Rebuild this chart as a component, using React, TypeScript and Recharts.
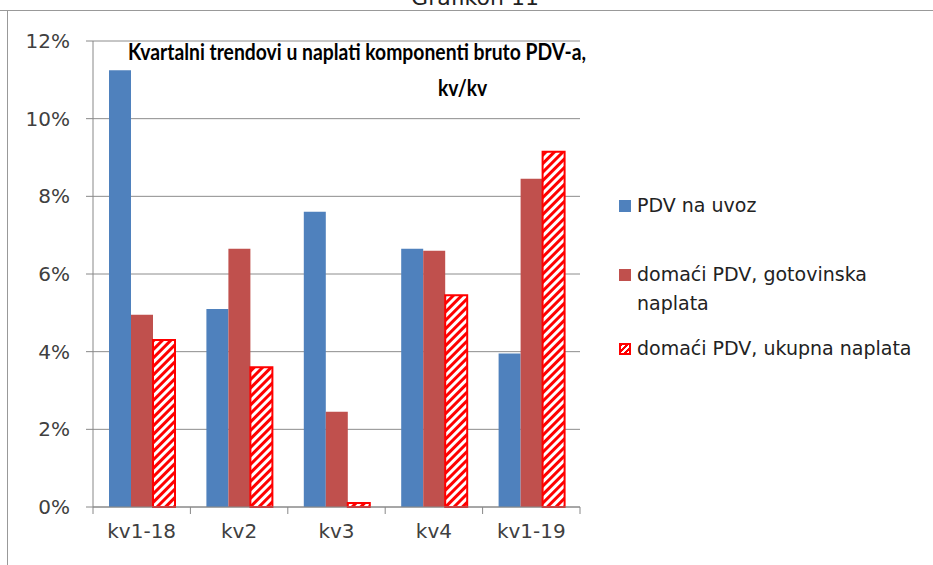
import { BarChart, Bar, XAxis, YAxis, CartesianGrid } from "recharts";

const categories = ["kv1-18", "kv2", "kv3", "kv4", "kv1-19"];
const pdvUvoz = [11.25, 5.1, 7.6, 6.65, 3.95];
const domaciGotovinska = [4.95, 6.65, 2.45, 6.6, 8.45];
const domaciUkupna = [4.3, 3.6, 0.1, 5.45, 9.15];
const yTicks = [0, 2, 4, 6, 8, 10, 12];

const seriesNames = {
  uvoz: "PDV na uvoz",
  gotovinska: "domaći PDV, gotovinska naplata",
  ukupna: "domaći PDV, ukupna naplata",
};

const data = categories.map((name, i) => ({
  name,
  uvoz: pdvUvoz[i],
  gotovinska: domaciGotovinska[i],
  ukupna: domaciUkupna[i],
}));

const AXIS_FONT = "'DejaVu Sans', Verdana, sans-serif";

// category label plus tick marks on the band edges (Excel style)
function CatTick(props: any) {
  const { x, y, payload, index } = props;
  const half = payload?.offset ?? 487 / categories.length / 2;
  return (
    <g>
      <line x1={x - half} y1={y - 8} x2={x - half} y2={y - 1} stroke="#888" />
      {index === categories.length - 1 && (
        <line x1={x + half} y1={y - 8} x2={x + half} y2={y - 1} stroke="#888" />
      )}
      <text x={x} y={y + 23} textAnchor="middle" fill="#404040" fontSize={20} fontFamily={AXIS_FONT}>
        {payload.value}
      </text>
    </g>
  );
}

function LegendBox() {
  const row = { display: "flex", alignItems: "flex-start", gap: 6 } as const;
  const sw = (bg: string, extra: any = {}) => (
    <span style={{ width: 12, height: 12, background: bg, marginTop: 9, flex: "none", ...extra }} />
  );
  return (
    <div style={{ fontFamily: AXIS_FONT, fontSize: 19, color: "#222", lineHeight: "29px", whiteSpace: "nowrap" }}>
      <div style={row}>{sw("#4F81BD")}<span>{seriesNames.uvoz}</span></div>
      <div style={{ ...row, marginTop: 40 }}>
        {sw("#C0504D")}
        <span>domaći PDV, gotovinska<br />naplata</span>
      </div>
      <div style={{ ...row, marginTop: 16 }}>
        {sw(
          "repeating-linear-gradient(-45deg, #fff 0 2px, #FF0000 2px 4px)",
          { boxSizing: "border-box", border: "2px solid #FF0000" }
        )}
        <span>{seriesNames.ukupna}</span>
      </div>
    </div>
  );
}

const titleStyle = {
  position: "absolute",
  fontFamily: "Lato, sans-serif",
  fontWeight: 700,
  fontSize: 23,
  color: "#000",
  whiteSpace: "nowrap",
  transform: "scaleX(0.84)",
  transformOrigin: "left top",
} as const;

export default function App() {
  return (
    <div style={{ position: "absolute", left: 0, top: 0, width: 933, height: 565, background: "#fff", overflow: "hidden" }}>
      <div style={{ position: "absolute", top: -15, left: 0, width: 950, textAlign: "center", fontFamily: AXIS_FONT, fontSize: 22, color: "#222" }}>
        Grafikon 11
      </div>
      <div style={{ position: "absolute", top: 10, left: 0, width: 933, height: 1, background: "#999" }} />
      <div style={{ position: "absolute", top: 10, left: 7, width: 1, height: 555, background: "#999" }} />
      <BarChart
        width={933}
        height={565}
        data={data}
        margin={{ top: 41, right: 353, left: 0, bottom: 0 }}
        barCategoryGap={16}
        barGap={0}
      >
        <defs>
          <pattern id="hatch" patternUnits="userSpaceOnUse" width="6" height="6" patternTransform="rotate(45)">
            <rect width="6" height="6" fill="#fff" />
            <rect width="3" height="6" fill="#FF0000" />
          </pattern>
        </defs>
        <CartesianGrid vertical={false} stroke="#8c8c8c" />
        <XAxis
          dataKey="name"
          tickLine={false}
          axisLine={{ stroke: "#888" }}
          tick={<CatTick />}
          interval={0}
          height={58}
        />
        <YAxis
          domain={[0, 12]}
          ticks={yTicks}
          width={93}
          tickSize={7}
          tickMargin={16}
          tickFormatter={(v) => `${v}%`}
          tick={{ fill: "#404040", fontSize: 20, fontFamily: AXIS_FONT }}
          axisLine={{ stroke: "#888" }}
          tickLine={{ stroke: "#888" }}
        />
        <Bar dataKey="uvoz" name={seriesNames.uvoz} fill="#4F81BD" isAnimationActive={false} />
        <Bar dataKey="gotovinska" name={seriesNames.gotovinska} fill="#C0504D" isAnimationActive={false} />
        <Bar
          dataKey="ukupna"
          name={seriesNames.ukupna}
          fill="url(#hatch)"
          stroke="#FF0000"
          strokeWidth={2}
          isAnimationActive={false}
        />
      </BarChart>
      <div style={{ position: "absolute", left: 619, top: 191 }}>
        <LegendBox />
      </div>
      <div style={{ ...titleStyle, left: 128, top: 37 }}>
        Kvartalni trendovi u naplati komponenti bruto PDV-a,
      </div>
      <div style={{ ...titleStyle, left: 438, top: 73 }}>
        kv/kv
      </div>
    </div>
  );
}
